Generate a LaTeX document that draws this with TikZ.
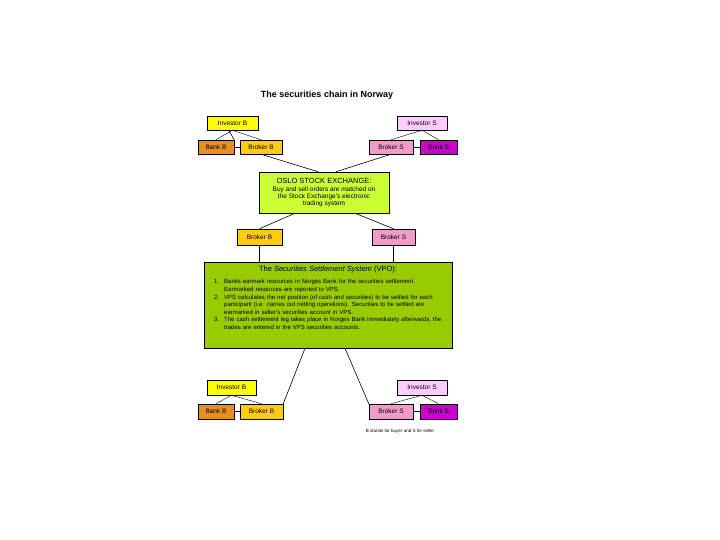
\documentclass[tikz,border=0pt]{standalone}
\usepackage{fontspec}
\setmainfont{Liberation Sans}
\begin{document}
\begin{tikzpicture}[x=1pt,y=-1pt,
  bx/.style={draw,line width=0.5pt,inner sep=0pt,font=\fontsize{6.5}{7}\selectfont},
  ln/.style={line width=0.6pt}]
\definecolor{cInvB}{HTML}{FFFF00}
\definecolor{cBankB}{HTML}{E8901A}
\definecolor{cBrokB}{HTML}{FFCC11}
\definecolor{cInvS}{HTML}{FFCCFF}
\definecolor{cBrokS}{HTML}{F09CC8}
\definecolor{cBankS}{HTML}{CC00CC}
\definecolor{cOslo}{HTML}{CCFF33}
\definecolor{cVPS}{HTML}{99CC00}
\useasboundingbox (0,0) rectangle (720,540);
\node[font=\bfseries\fontsize{9}{10}\selectfont] (title) at (327,95) {The securities chain in Norway};
% top group
\node[bx,fill=cInvB,minimum width=51,minimum height=14] (ib1) at (232.5,123) {Investor B};
\node[bx,fill=cBankB,minimum width=36,minimum height=14] (bb1) at (216,147) {Bank B};
\node[bx,fill=cBrokB,minimum width=42,minimum height=14] (kb1) at (261,147) {Broker B};
\node[bx,fill=cInvS,minimum width=50,minimum height=14] (is1) at (422,123) {Investor S};
\node[bx,fill=cBrokS,minimum width=44,minimum height=14] (ks1) at (391,147) {Broker S};
\node[bx,fill=cBankS,minimum width=37,minimum height=14] (bs1) at (438.5,147) {Bank S};
\node[bx,fill=cOslo,minimum width=130,minimum height=41,align=center] (oslo) at (324,192.5)
 {{\fontsize{7.5}{8}\selectfont OSLO STOCK EXCHANGE:}\\[1pt]Buy and sell orders are matched on\\the Stock Exchange's electronic\\trading system};
\node[bx,fill=cBrokB,minimum width=45,minimum height=16] (kb2) at (259.5,237) {Broker B};
\node[bx,fill=cBrokS,minimum width=43,minimum height=16] (ks2) at (393.5,237) {Broker S};
\node[bx,fill=cVPS,minimum width=248,minimum height=86] (vps) at (328,305) {};
\node[font=\fontsize{7.5}{8}\selectfont] (vpst) at (328,270) {The \textit{Securities Settlement System} (VPO):};
\node[anchor=north west,text width=238,inner sep=0pt,font=\fontsize{6}{7.6}\selectfont] (vpsl) at (207,276) {%
\begin{list}{}{\leftmargin=17pt\labelwidth=12pt\labelsep=5pt\itemsep=0pt\parsep=0pt\topsep=0pt}
\item[1.] Banks earmark resources in Norges Bank for the securities settlement. Earmarked resources are reported to VPS.
\item[2.] VPS calculates the net position (of cash and securities) to be settled for each participant (i.e. carries out netting operations). Securities to be settled are earmarked in seller's securities account in VPS.
\item[3.] The cash settlement leg takes place in Norges Bank immediately afterwards, the trades are entered in the VPS securities accounts.
\end{list}};
% bottom group
\node[bx,fill=cInvB,minimum width=49,minimum height=15] (ib3) at (231.5,387.5) {Investor B};
\node[bx,fill=cBankB,minimum width=36,minimum height=15] (bb3) at (216,411.5) {Bank B};
\node[bx,fill=cBrokB,minimum width=43,minimum height=15] (kb3) at (261.5,411.5) {Broker B};
\node[bx,fill=cInvS,minimum width=50,minimum height=15] (is3) at (422,387.5) {Investor S};
\node[bx,fill=cBrokS,minimum width=44,minimum height=15] (ks3) at (391,411.5) {Broker S};
\node[bx,fill=cBankS,minimum width=37,minimum height=15] (bs3) at (438.5,411.5) {Bank S};
\node[font=\fontsize{4.5}{5}\selectfont] (foot) at (400,431) {B stands for buyer and S for seller};
% connectors
\draw[ln] (ib1.south) ++(-4,0) coordinate (a1) -- (bb1.north east|-bb1.north);
\draw (ib1.south) -- (bb1.north);
\draw (ib1.south) -- (kb1.north);
\draw (bb1) -- (kb1);
\draw (is1.south) -- (ks1.north);
\draw (is1.south) -- (bs1.north);
\draw (ks1) -- (bs1);
\draw (ib3.south) -- (bb3.north);
\draw (ib3.south) -- (kb3.north);
\draw (bb3) -- (kb3);
\draw (is3.south) -- (ks3.north);
\draw (is3.south) -- (bs3.north);
\draw (ks3) -- (bs3);
\draw[ln] (kb1.south) -- (oslo.north -| 318,0);
\draw[ln] (ks1.south) -- (oslo.north -| 336,0);
\draw[ln] (oslo.south -| 295,0) -- (kb2.north);
\draw[ln] (oslo.south -| 355,0) -- (ks2.north);
\draw[line width=1pt] (kb2.south) -- (vps.north -| kb2.south);
\draw[line width=1pt] (ks2.south) -- (vps.north -| ks2.south);
\draw[ln] (vps.south -| 305,0) -- (kb3.north east);
\draw[ln] (vps.south -| 345,0) -- (ks3.north west);
\end{tikzpicture}
\end{document}
